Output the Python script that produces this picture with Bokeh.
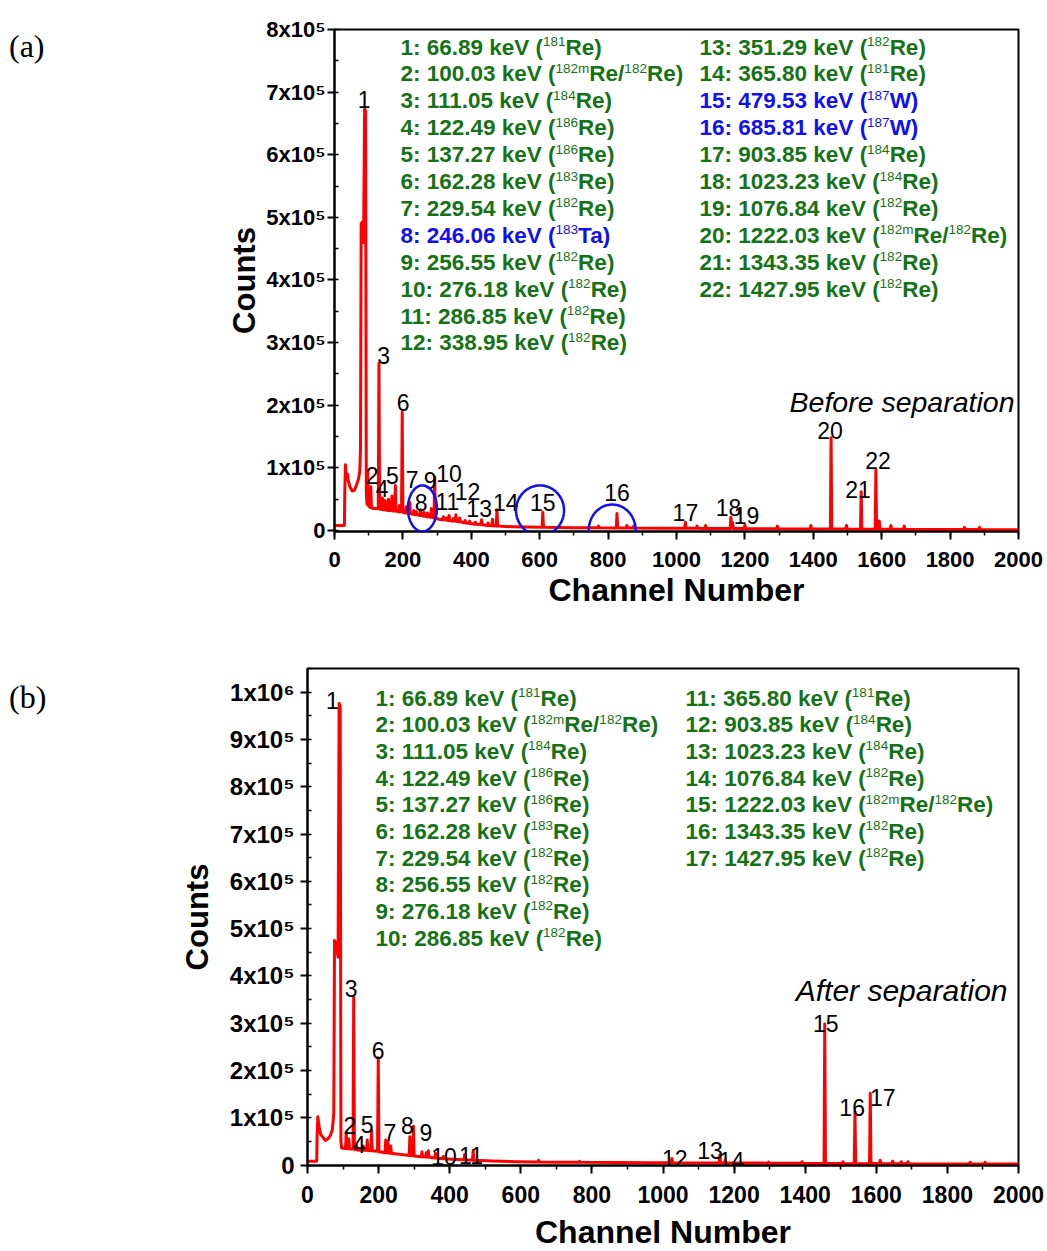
import glob
import math
from bokeh.plotting import figure
from bokeh.layouts import row
from bokeh.models import SingleIntervalTicker, Range1d, Label, PolyAnnotation, ColumnDataSource, Div
from bokeh.core.properties import value
from bokeh.embed import file_html
from bokeh.resources import INLINE

# ---------------- data: panel (a) spectrum, before separation ----------------
a_channel = [0, 29, 30, 32, 34, 36, 38, 40, 45, 52, 58, 64, 70, 74, 76, 78, 82, 85, 88, 91,
             93, 95, 97, 99, 104, 106, 108, 118, 128, 130, 132, 138, 140, 142, 146, 148, 150,
             156, 158, 160, 166, 168, 170, 176, 178, 180, 188, 190, 192, 196, 198, 200, 208,
             210, 212, 218, 220, 222, 230, 232, 234, 238, 240, 242, 250, 252, 254, 260, 262,
             264, 270, 272, 274, 281, 283, 285, 291, 293, 295, 305, 316, 318, 320, 325, 327,
             329, 333, 335, 337, 345, 347, 349, 353, 355, 357, 364, 366, 368, 380, 382, 384,
             393, 395, 397, 410, 412, 414, 428, 430, 432, 447, 449, 451, 460, 462, 464, 473,
             475, 477, 520, 560, 607, 609, 611, 660, 700, 770, 772, 774, 824, 826, 828, 853,
             855, 857, 873, 875, 877, 950, 1024, 1026, 1028, 1058, 1060, 1062, 1083, 1085,
             1087, 1157, 1159, 1161, 1164, 1166, 1198, 1200, 1202, 1293, 1295, 1297, 1391,
             1393, 1395, 1450, 1452, 1454, 1495, 1497, 1499, 1538, 1540, 1542, 1581, 1583,
             1585, 1591, 1593, 1595, 1625, 1627, 1629, 1664, 1666, 1668, 1840, 1842, 1844,
             1884, 1886, 1888, 2000]
a_counts = [8000, 8000, 60000, 105000, 88000, 84000, 90000, 80000, 70000, 63000, 64000, 72000,
            82000, 95000, 130000, 490000, 493000, 460000, 673000, 670000,
            60000, 42000, 95000, 40000, 37000, 70000, 36000, 35000, 35000, 267000, 34000, 34000,
            52000, 33000, 33000, 48000, 33000,
            32000, 50000, 32000, 32000, 55000, 31000, 31000, 72000, 31000, 30000, 40000, 30000,
            30000, 189000, 29000, 28000,
            38000, 28000, 27000, 45000, 27000, 26000, 32000, 25500, 25000, 30000, 25000, 24000,
            33000, 24000, 23000, 29000,
            23000, 22000, 28000, 22000, 21000, 35000, 21000, 20000, 86000, 20000, 18000, 17000,
            22000, 17000, 17000, 20000,
            16500, 16000, 24000, 16000, 15000, 19000, 15000, 15000, 25000, 14500, 14000, 20000,
            14000, 12500, 16000, 12000,
            11500, 15000, 11000, 10000, 13000, 10000, 9500, 17000, 9000, 8000, 12000, 8000, 7500,
            18000, 7500, 7000,
            33000, 7000, 6000, 5500, 5000, 29000, 5000, 4800, 4500, 4300, 7000, 4200, 4000, 27000,
            4000, 3900,
            8000, 3900, 3800, 7000, 3800, 3600, 3500, 13000, 3500, 3400, 7000, 3400, 3300, 8000,
            3300, 3100, 21000, 4000, 13000, 3000, 3000, 9000, 3000, 2800, 7000, 2700, 2500,
            8000, 2500, 2400, 148000, 2400, 2200, 8000, 2200, 2100, 62000, 2100, 2000, 97000,
            3000, 2000, 15000, 2000, 1900, 8000, 1900, 1800, 7000, 1800, 1500, 5000, 1500,
            1400, 5000, 1400, 1200]

# ---------------- data: panel (b) spectrum, after separation ----------------
b_channel = [0, 26, 27, 29, 33, 37, 42, 50, 58, 64, 70, 74, 76, 80, 86, 89, 92, 94, 96, 107,
             109, 111, 114, 116, 118, 128, 130, 132, 136, 138, 140, 155, 157, 159, 166, 168,
             170, 178, 180, 182, 197, 199, 201, 210, 218, 220, 222, 224, 226, 228, 232, 234,
             236, 250, 260, 270, 286, 288, 290, 296, 298, 300, 320, 322, 324, 332, 334, 336,
             338, 340, 342, 358, 360, 362, 380, 382, 384, 410, 440, 442, 444, 464, 466, 468,
             520, 589, 648, 650, 652, 700, 763, 765, 767, 870, 964, 1023, 1025, 1027, 1158,
             1160, 1162, 1173, 1175, 1177, 1230, 1295, 1297, 1299, 1389, 1391, 1393, 1453,
             1455, 1457, 1504, 1506, 1508, 1538, 1540, 1542, 1581, 1583, 1585, 1609, 1611,
             1613, 1644, 1646, 1648, 1668, 1670, 1672, 1687, 1689, 1691, 1862, 1864, 1866,
             1904, 1906, 1908, 2000]
b_counts = [8000, 8000, 60000, 102000, 80000, 65000, 60000, 52000, 56000, 62000, 75000, 110000,
            475000, 470000, 440000, 976000, 970000, 50000, 36000, 35000,
            70000, 35000, 35000, 55000, 34000, 34000, 355000, 33000, 33000, 42000, 32000, 31000,
            40000, 31000, 31000, 53000,
            30500, 30000, 74000, 30000, 29000, 227000, 28000, 27000, 26000, 53000, 26000, 26000,
            50000, 25500, 25000, 40000,
            25000, 23500, 22500, 21500, 20000, 60000, 20000, 19500, 82000, 19000, 17500, 28000,
            17500, 17000, 26000, 17000,
            17000, 30000, 16500, 15000, 25000, 15000, 13500, 18000, 13500, 12000, 11000, 22000,
            11000, 10000, 30000, 10000,
            8500, 7000, 6500, 10000, 6500, 6000, 5800, 8000, 5800, 5400, 5000, 5000, 14000, 5000,
            4500,
            21000, 4500, 4500, 10000, 4400, 4200, 4000, 6000, 4000, 3500, 7000, 3500, 3000,
            298000, 3000, 3000, 7000, 3000, 2900, 113000, 2900, 2800, 152000, 3500, 2800, 10000,
            2800, 2700, 8000, 2700, 2700, 7000, 2700, 2600, 7000, 2600, 2400, 6000, 2400,
            2300, 6000, 2300, 2200]

# ---------------- peak number labels ----------------
a_label_text = ["1", "2", "3", "4", "5", "6", "7", "8", "9", "10", "11", "12", "13", "14",
                "15", "16", "17", "18", "19", "20", "21", "22"]
a_label_ch = [87, 110, 144, 139, 169, 201, 227, 253, 280, 335, 330, 389, 423, 501, 609, 826,
              1026, 1152, 1205, 1449, 1531, 1589]
a_label_counts = [689000, 88000, 279000, 67000, 88000, 205000, 81000, 45000, 80000, 91000,
                  46000, 62000, 35000, 45500, 45500, 60000, 29000, 37000, 24000, 159000,
                  65500, 112000]

b_label_text = ["1", "2", "3", "4", "5", "6", "7", "8", "9", "10", "11", "12", "13", "14",
                "15", "16", "17"]
b_label_ch = [70, 119, 123, 145, 168, 199, 232, 281, 333, 384, 460, 1033, 1132, 1193, 1458,
              1532, 1618]
b_label_counts = [982000, 83500, 372600, 42700, 85600, 242100, 69400, 83500, 69400, 18000,
                  20100, 13100, 30700, 9500, 298600, 122200, 142100]

# ---------------- peak identification lists ----------------
a_energy = ["66.89", "100.03", "111.05", "122.49", "137.27", "162.28", "229.54", "246.06",
            "256.55", "276.18", "286.85", "338.95", "351.29", "365.80", "479.53", "685.81",
            "903.85", "1023.23", "1076.84", "1222.03", "1343.35", "1427.95"]
a_mass = ["181", "182m/182", "184", "186", "186", "183", "182", "183", "182", "182", "182",
          "182", "182", "181", "187", "187", "184", "184", "182", "182m/182", "182", "182"]
a_element = ["Re", "Re", "Re", "Re", "Re", "Re", "Re", "Ta", "Re", "Re", "Re", "Re", "Re",
             "Re", "W", "W", "Re", "Re", "Re", "Re", "Re", "Re"]
a_blue = [8, 15, 16]

b_energy = ["66.89", "100.03", "111.05", "122.49", "137.27", "162.28", "229.54", "256.55",
            "276.18", "286.85", "365.80", "903.85", "1023.23", "1076.84", "1222.03",
            "1343.35", "1427.95"]
b_mass = ["181", "182m/182", "184", "186", "186", "183", "182", "182", "182", "182", "181",
          "184", "184", "182", "182m/182", "182", "182"]
b_element = ["Re"] * 17
b_blue = []

# blue circles around the W / Ta peaks: centres (channel, counts)
a_circle_ch = [257, 601, 812]
a_circle_counts = [35200, 32000, 0]
a_circle_px = [(29, 46), (48, 50), (47, 52)]

y_ticks_a = [0, 1, 2, 3, 4, 5, 6, 7, 8]
y_ticks_b = [0, 1, 2, 3, 4, 5, 6, 7, 8, 9, 10]

# ---------------- styling / geometry ----------------
RED = "#ff0000"
GREEN = "#167216"
BLUE = "#1010f0"
FONT = "Liberation Sans"
PAGE_W = 1047
DIV_W = 60
SUP = {"0": "\u2070", "1": "\u00b9", "2": "\u00b2", "3": "\u00b3", "4": "\u2074",
       "5": "\u2075", "6": "\u2076", "7": "\u2077", "8": "\u2078", "9": "\u2079"}

MAIN_SIZE = 22.5
SUP_SIZE = 13.5


def find_font(fname):
    for root in ("/usr/share/fonts", "/usr/local/share/fonts", "/usr/share/fonts/truetype"):
        hits = glob.glob(root + "/**/" + fname, recursive=True)
        if hits:
            return hits[0]
    return None


_fonts = {}


def text_width(txt, size, bold):
    if bold not in _fonts:
        try:
            from PIL import ImageFont
            path = find_font("LiberationSans-Bold.ttf" if bold else "LiberationSans-Regular.ttf")
            _fonts[bold] = ImageFont.truetype(path, 100) if path else None
        except Exception:
            _fonts[bold] = None
    f = _fonts[bold]
    if f is not None:
        return f.getlength(txt) * size / 100.0
    return len(txt) * 0.58 * size


def make_panel(G, y_start, y_end, tick_vals, tick_map):
    left_b = G["left"] - DIV_W
    top_b = G["top"] - G["page_top"]
    p = figure(frame_width=G["w"], frame_height=G["h"],
               min_border_left=left_b, min_border_right=PAGE_W - G["left"] - G["w"],
               min_border_top=top_b, min_border_bottom=G["fig_h"] - top_b - G["h"],
               x_range=Range1d(0, 2000), y_range=Range1d(y_start, y_end),
               output_backend="svg", toolbar_location=None, title=None, margin=0)
    p.xgrid.visible = False
    p.ygrid.visible = False
    p.outline_line_color = "black"
    p.outline_line_width = 2
    p.background_fill_color = "white"
    p.border_fill_color = "white"
    p.xaxis.ticker = SingleIntervalTicker(interval=200, num_minor_ticks=2)
    p.yaxis.ticker = SingleIntervalTicker(interval=1e5, num_minor_ticks=2)
    for ax in (p.xaxis[0], p.yaxis[0]):
        ax.axis_line_width = 2
        ax.major_tick_line_width = 2
        ax.minor_tick_line_width = 1.5
        ax.major_tick_in = 0
        ax.major_label_text_font = FONT
        ax.major_label_text_font_style = "bold"
        ax.axis_label_text_font = FONT
        ax.axis_label_text_font_style = "bold"
        ax.axis_label_text_color = "black"
        ax.major_label_text_color = "black"
    p.xaxis.major_tick_out = 8
    p.xaxis.minor_tick_out = 4
    p.xaxis.minor_tick_in = 0
    p.yaxis.major_tick_out = 7
    p.yaxis.minor_tick_out = 0
    p.yaxis.minor_tick_in = 4
    p.xaxis.major_label_text_font_size = G["xtick_size"]
    p.yaxis.major_label_text_font_size = G["ytick_size"]
    p.xaxis.major_label_standoff = 12
    p.yaxis.major_label_standoff = G["ytick_standoff"]
    p.xaxis.axis_label = "Channel Number"
    p.yaxis.axis_label = "Counts"
    p.xaxis.axis_label_text_font_size = "32px"
    p.yaxis.axis_label_text_font_size = "31px"
    p.xaxis.axis_label_standoff = G["xlab_standoff"]
    p.yaxis.axis_label_standoff = G["ylab_standoff"]
    overrides = {}
    for v in tick_vals:
        if v == 0:
            overrides[0] = "0"
        else:
            mant, ex = tick_map(v)
            overrides[int(v * 1e5)] = f"{mant}x10{SUP[str(ex)]}"
    p.yaxis.major_label_overrides = overrides
    return p


def px_to_data(G, y_start, y_end):
    def fx(px):
        return (px - G["left"]) / G["w"] * 2000.0

    def fy(py):
        return y_end - (py - G["top"]) / G["h"] * (y_end - y_start)
    return fx, fy


def add_spectrum(p, ch, cnt):
    p.line(ch, cnt, line_color=RED, line_width=3, line_join="round")


def add_peak_labels(p, txt, ch, cnt):
    src = ColumnDataSource(dict(x=ch, y=cnt, t=txt))
    p.text(x="x", y="y", text="t", source=src, text_font=value(FONT),
           text_font_size="23px", text_color="black", text_align="center",
           text_baseline="middle")


def add_legend(p, fx, fy, col_x, first_base, spacing, idx_range, energy, mass, element, blue):
    main = dict(x=[], y=[], t=[], c=[])
    sup = dict(x=[], y=[], t=[], c=[])
    for r, i in enumerate(idx_range):
        color = BLUE if (i + 1) in blue else GREEN
        base = first_base + r * spacing
        pieces = [(f"{i + 1}: {energy[i]} keV (", False)]
        masses = mass[i].split("/")
        for j, m in enumerate(masses):
            pieces.append((m, True))
            pieces.append((element[i] + ("/" if j < len(masses) - 1 else ")"), False))
        cur = col_x
        for t, is_sup in pieces:
            if is_sup:
                sup["x"].append(fx(cur)); sup["y"].append(fy(base - 5.5))
                sup["t"].append(t); sup["c"].append(color)
                cur += text_width(t, SUP_SIZE, False)
            else:
                main["x"].append(fx(cur)); main["y"].append(fy(base))
                main["t"].append(t); main["c"].append(color)
                cur += text_width(t, MAIN_SIZE, True)
    p.text(x="x", y="y", text="t", text_color="c", source=ColumnDataSource(main),
           text_font=value(FONT), text_font_style="bold", text_font_size=f"{MAIN_SIZE}px",
           text_align="left", text_baseline="alphabetic")
    p.text(x="x", y="y", text="t", text_color="c", source=ColumnDataSource(sup),
           text_font=value(FONT), text_font_style="normal", text_font_size=f"{SUP_SIZE}px",
           text_align="left", text_baseline="alphabetic")


def panel_tag(tag, top_pad):
    html = ('<div style="padding: %dpx 0 0 9px; font-family: \'Liberation Serif\', serif; '
            'font-size: 32px; line-height: 32px; color: black;">%s</div>' % (top_pad, tag))
    return Div(text=html, width=DIV_W, height=90, margin=0)


# ---------------- panel (a) ----------------
GA = dict(left=334, top=29, w=684, h=502, page_top=0, fig_h=630, xlab_standoff=2,
          ylab_standoff=1, xtick_size="22px", ytick_size="22px", ytick_standoff=2)
YA0, YA1 = -1600, 800000
pa = make_panel(GA, YA0, YA1, y_ticks_a, lambda v: (v, 5))
fxa, fya = px_to_data(GA, YA0, YA1)
add_spectrum(pa, a_channel, a_counts)
add_peak_labels(pa, a_label_text, a_label_ch, a_label_counts)
add_legend(pa, fxa, fya, 400, 46.5, 26.9, range(0, 12), a_energy, a_mass, a_element, a_blue)
add_legend(pa, fxa, fya, 699, 46.5, 26.9, range(12, 22), a_energy, a_mass, a_element, a_blue)

sxa = 2000.0 / GA["w"]
sya = (YA1 - YA0) / GA["h"]
for cx, cy, (wpx, hpx) in zip(a_circle_ch, a_circle_counts, a_circle_px):
    n = 90
    xs = [cx + (wpx / 2.0) * sxa * math.cos(2 * math.pi * k / n) for k in range(n)]
    ys = [cy + (hpx / 2.0) * sya * math.sin(2 * math.pi * k / n) for k in range(n)]
    pa.add_layout(PolyAnnotation(xs=xs, ys=ys, fill_alpha=0, line_color=BLUE,
                                 line_alpha=1.0, line_width=2.5))

pa.add_layout(Label(x=fxa(1014), y=fya(401.7), text="Before separation", text_font=FONT,
                    text_font_style="italic", text_font_size="28.5px", text_align="right",
                    text_baseline="middle", text_color="black"))

# ---------------- panel (b) ----------------
GB = dict(left=307, top=668, w=711, h=497, page_top=630, fig_h=621, xlab_standoff=8,
          ylab_standoff=12, xtick_size="23px", ytick_size="24px", ytick_standoff=6)
YB0, YB1 = -1000, 1050000
pb = make_panel(GB, YB0, YB1, y_ticks_b, lambda v: (1, 6) if v == 10 else (v, 5))
fxb, fyb = px_to_data(GB, YB0, YB1)
add_spectrum(pb, b_channel, b_counts)
add_peak_labels(pb, b_label_text, b_label_ch, b_label_counts)
add_legend(pb, fxb, fyb, 375, 697.5, 26.67, range(0, 10), b_energy, b_mass, b_element, b_blue)
add_legend(pb, fxb, fyb, 685, 697.5, 26.67, range(10, 17), b_energy, b_mass, b_element, b_blue)

pb.add_layout(Label(x=fxb(1007), y=fyb(990), text="After separation", text_font=FONT,
                    text_font_style="italic", text_font_size="30px", text_align="right",
                    text_baseline="middle", text_color="black"))

row_a = row(panel_tag("(a)", 30), pa, spacing=0, margin=0)
row_b = row(panel_tag("(b)", 51), pb, spacing=0, margin=0)
open("out.html", "w").write(file_html([row_a, row_b], INLINE))
